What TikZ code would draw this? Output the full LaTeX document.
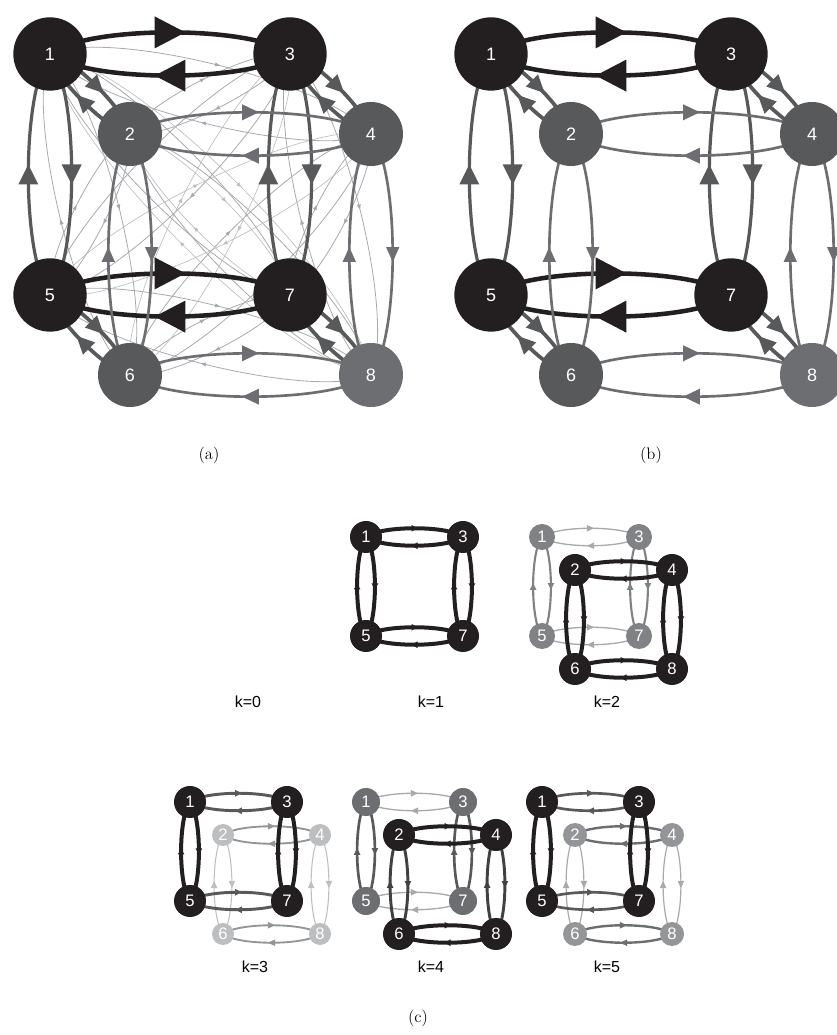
\documentclass[tikz,border=0pt]{standalone}
\usepackage{fontspec}
\setsansfont{Liberation Sans}
\usetikzlibrary{decorations.markings}
\usetikzlibrary{backgrounds}

\definecolor{ink}{HTML}{231F20}
\definecolor{coal}{HTML}{414042}
\definecolor{slate}{HTML}{58595B}
\definecolor{ash}{HTML}{6D6E71}
\definecolor{smoke}{HTML}{808285}
\definecolor{fog}{HTML}{939598}
\definecolor{mist}{HTML}{A7A9AC}
\definecolor{haze}{HTML}{BCBEC0}

\tikzset{
  midtip/.style n args={3}{postaction={decorate},
    decoration={markings,mark=at position 0.5 with
      {\fill[#3] (#1/2,0) -- (-#1/2,#2/2) -- (-#1/2,-#2/2) -- cycle;}}},
  link/.style n args={4}{draw=#1,line width=#2,bend left=38,looseness=0.5,midtip={#3}{#4}{#1}},
}

% both directions between two states (centre to centre, hidden under the discs)
\newcommand{\both}[3]{\path (#1.center) edge[#3] (#2.center) (#2.center) edge[#3] (#1.center);}

% states of a large cube, #2 = x shift
\newcommand{\bigcube}[2]{%
  \node[bignode={ink}{55pt}]   (#11) at ({#2+50},981)  {1};
  \node[bignode={slate}{48pt}] (#12) at ({#2+130},901) {2};
  \node[bignode={ink}{55pt}]   (#13) at ({#2+290},981) {3};
  \node[bignode={slate}{48pt}] (#14) at ({#2+371},901) {4};
  \node[bignode={ink}{55pt}]   (#15) at ({#2+50},740)  {5};
  \node[bignode={slate}{48pt}] (#16) at ({#2+130},660) {6};
  \node[bignode={ink}{55pt}]   (#17) at ({#2+290},740) {7};
  \node[bignode={ash}{48pt}]   (#18) at ({#2+371},660) {8};
}
\newcommand{\bigedges}[1]{%
  \both{#11}{#13}{bigblack}
  \both{#15}{#17}{bigblack}
  \both{#11}{#15}{bigside}
  \both{#13}{#17}{bigside}
  \both{#12}{#14}{backrow}
  \both{#16}{#18}{backrow}
  \both{#12}{#16}{backcol}
  \both{#14}{#18}{backcol}
  \both{#11}{#12}{bigdiag}
  \both{#13}{#14}{bigdiag}
  \both{#15}{#16}{bigdiag}
  \both{#17}{#18}{bigdiag}
}
% one face of a small cube: name, x, y, first label, state, row link, column link
\newcommand{\miniface}[7]{%
  \node[#5] (#1a) at (#2,#3) {#4};
  \node[#5] (#1b) at ({#2+97},#3) {\the\numexpr#4+2\relax};
  \node[#5] (#1c) at (#2,{#3-99}) {\the\numexpr#4+4\relax};
  \node[#5] (#1d) at ({#2+97},{#3-99}) {\the\numexpr#4+6\relax};
  \begin{pgfonlayer}{background}
    \both{#1a}{#1b}{#6}
    \both{#1c}{#1d}{#6}
    \both{#1a}{#1c}{#7}
    \both{#1b}{#1d}{#7}
  \end{pgfonlayer}
}

\begin{document}
\begin{tikzpicture}[
    x=0.75pt,y=0.75pt,
    state/.style 2 args={circle,fill=#1,minimum size=#2,inner sep=0pt,text=white},
    bignode/.style 2 args={state={#1}{#2},font=\sffamily\fontsize{13.5}{14}\selectfont},
    mininode/.style 2 args={state={#1}{#2},font=\sffamily\fontsize{12.5}{13}\selectfont},
    bigblack/.style={link={ink}{3.4pt}{23pt}{24pt}},
    bigside/.style={link={slate}{2.4pt}{15pt}{15pt}},
    backrow/.style={link={ash}{2pt}{12.5pt}{12pt}},
    backcol/.style={link={ash}{2pt}{11pt}{10pt}},
    bigdiag/.style={link={slate}{2.8pt}{13.5pt}{13pt}},
    faint/.style={link={mist}{0.6pt}{4pt}{3pt}},
    fainter/.style={link={haze}{0.5pt}{3.5pt}{3pt}},
    heavy/.style={link={ink}{3pt}{4.5pt}{5pt}},
    klabel/.style={font=\sffamily\fontsize{12}{14}\selectfont},
    caption/.style={font=\fontsize{12.5}{15}\selectfont}
    ]
    \useasboundingbox (0,0) rectangle (836,1035);

    % (a) full chain
    \bigcube{a}{0}
    \begin{pgfonlayer}{background}
      \foreach \i/\j in {1/4,1/6,1/7,2/3,2/5,2/8,3/5,3/8,4/6,4/7,5/8,6/7}
        {\both{a\i}{a\j}{faint}}
      \foreach \i/\j in {1/8,2/7,3/6,4/5}
        {\both{a\i}{a\j}{fainter}}
      \bigedges{a}
    \end{pgfonlayer}
    \node[caption] (capa) at (209,580) {(a)};

    % (b) cube edges only
    \bigcube{b}{441}
    \begin{pgfonlayer}{background}
      \bigedges{b}
    \end{pgfonlayer}
    \node[caption] (capb) at (651,580) {(b)};

    % (c) k = 0 ... 5
    \node[klabel] (k0) at (248,333) {k=0};

    \miniface{ka}{366}{498}{1}{mininode={ink}{24pt}}{heavy}{heavy}
    \node[klabel] (k1) at (431,333) {k=1};

    \miniface{kba}{542}{498}{1}{mininode={smoke}{19.5pt}}%
      {link={mist}{1pt}{5.5pt}{5pt}}{link={smoke}{1.6pt}{5pt}{5pt}}
    \miniface{kbb}{575}{465}{2}{mininode={ink}{24pt}}{heavy}{heavy}
    \node[klabel] (k2) at (607,333) {k=2};

    \miniface{kcb}{223}{200}{2}{mininode={haze}{16.5pt}}%
      {link={fog}{1.4pt}{5.5pt}{5pt}}{link={haze}{0.8pt}{5.5pt}{5pt}}
    \miniface{kca}{190}{233}{1}{mininode={ink}{24pt}}%
      {link={slate}{2.2pt}{5pt}{5pt}}{heavy}
    \node[klabel] (k3) at (255,68) {k=3};

    \miniface{kda}{366}{233}{1}{mininode={ash}{21pt}}%
      {link={mist}{1pt}{5.5pt}{5pt}}{link={slate}{2pt}{5pt}{5pt}}
    \miniface{kdb}{399}{200}{2}{mininode={ink}{24pt}}%
      {heavy}{link={coal}{2.2pt}{5pt}{5pt}}
    \node[klabel] (k4) at (431,68) {k=4};

    \miniface{keb}{575}{200}{2}{mininode={fog}{18pt}}%
      {link={ash}{1.8pt}{5.5pt}{5pt}}{link={mist}{0.9pt}{5.5pt}{5pt}}
    \miniface{kea}{542}{233}{1}{mininode={ink}{24pt}}%
      {link={slate}{2pt}{5pt}{5pt}}{heavy}
    \node[klabel] (k5) at (607,68) {k=5};

    \node[caption] (capc) at (418,17) {(c)};
\end{tikzpicture}
\end{document}
